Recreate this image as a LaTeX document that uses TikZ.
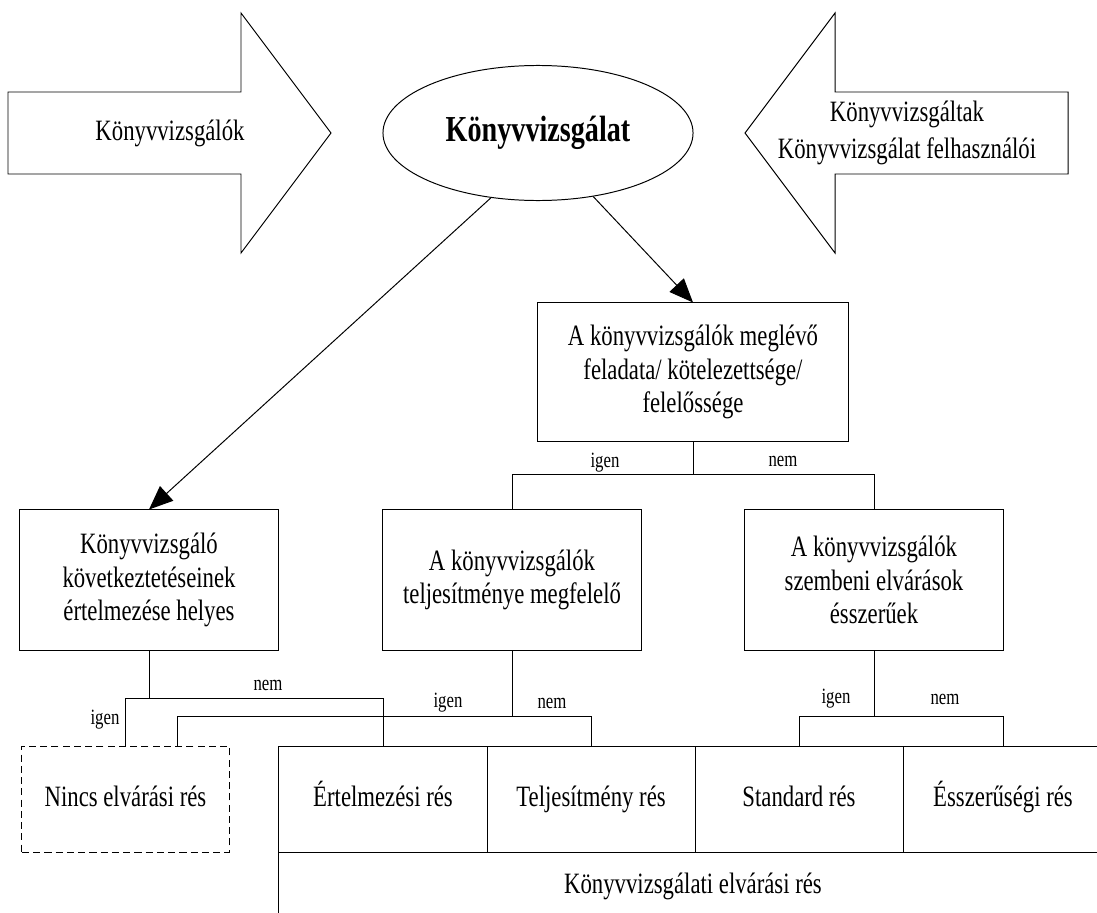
\documentclass[tikz,border=0pt]{standalone}
\usepackage{fontspec}
\setmainfont{Liberation Serif}[FakeStretch=0.77]
\usetikzlibrary{shapes.geometric,arrows.meta}

\begin{document}
\begin{tikzpicture}[x=0.025cm,y=-0.025cm,line width=0.7pt,
  txt/.style={font=\fontsize{21}{24}\selectfont},
  box/.style={draw,txt,align=center,minimum width=6.45cm,minimum height=3.5cm,inner sep=2pt},
  cell/.style={txt,minimum width=5.2cm,minimum height=2.65cm,inner sep=0pt,text height=15pt,text depth=5pt},
  lbl/.style={font=\fontsize{15.5}{18}\selectfont,inner sep=1pt},
  hit/.style={-{Triangle[length=17pt,width=14pt]}}]
\useasboundingbox (0,0) rectangle (1097,913);

% the two big arrows
\draw (8,92) -- (241,92) -- (241,13) -- (331,133) -- (241,253) -- (241,174) -- (8,174) -- cycle;
\draw (1068,92) -- (835,92) -- (835,13) -- (745,133) -- (835,253) -- (835,174) -- (1068,174) -- cycle;
\node[txt] (vizsgalok) at (170,133) {Könyvvizsgálók};
\node[align=center,font=\fontsize{21}{26}\selectfont] (vizsgaltak) at (907,133) {Könyvvizsgáltak\\Könyvvizsgálat felhasználói};

\node[ellipse,draw,minimum width=7.75cm,minimum height=3.375cm,inner sep=0pt,
      font=\bfseries\fontsize{26}{30}\selectfont] (kv) at (538,133) {Könyvvizsgálat};

% boxes
\node[box,minimum width=7.75cm,minimum height=3.45cm] (meg) at (693,372) {A könyvvizsgálók meglévő\\feladata/ kötelezettsége/\\felelőssége};
\node[box] (kov) at (149,580) {Könyvvizsgáló\\következtetéseinek\\értelmezése helyes};
\node[box] (telj) at (512,580) {A könyvvizsgálók\\teljesítménye megfelelő};
\node[box] (esz) at (874,580) {A könyvvizsgálók\\szembeni elvárások\\ésszerűek};

% bottom row
\node[cell,draw,dashed,dash pattern=on 5pt off 3pt,minimum width=5.175cm] (nincs) at (125.5,799) {Nincs elvárási rés};
\node[cell] (ert) at (383,799) {Értelmezési rés};
\node[cell] (tel) at (591,799) {Teljesítmény rés};
\node[cell] (std) at (799,799) {Standard rés};
\node[cell] (esr) at (1003,799) {Ésszerűségi rés};
\draw (278,746) -- (1097,746) (278,852) -- (1097,852) (278,746) -- (278,913);
\draw (487,746) -- (487,852) (695,746) -- (695,852) (903,746) -- (903,852);
\node[txt] (gap) at (693,886) {Könyvvizsgálati elvárási rés};

% connectors
\coordinate (y0) at (0,474);
\coordinate (y1) at (0,698);
\coordinate (y2) at (0,716);

\draw[hit] (kv.234) -- (kov.north);
\draw[hit] (kv.311) -- (meg.north);

\draw (meg.south) -- (meg.south |- y0);
\draw (telj.north) |- (esz.north |- y0) -- (esz.north);
\node[lbl] (igen0) at (605,463) {igen};
\node[lbl] (nem0) at (783,461) {nem};

\draw (kov.south) -- (kov.south |- y1);
\draw (nincs.north) |- (ert.north |- y1) -- (ert.north);
\node[lbl] (igen1) at (105,720) {igen};
\node[lbl] (nem1) at (268,685) {nem};

\draw (telj.south) -- (telj.south |- y2);
\draw ([xshift=1.3cm]nincs.north) |- (tel.north |- y2) -- (tel.north);
\node[lbl] (igen2) at (448,703) {igen};
\node[lbl] (nem2) at (552,703) {nem};

\draw (esz.south) -- (esz.south |- y2);
\draw (std.north) |- (esr.north |- y2) -- (esr.north);
\node[lbl] (igen3) at (836,699) {igen};
\node[lbl] (nem3) at (945,699) {nem};
\end{tikzpicture}
\end{document}
